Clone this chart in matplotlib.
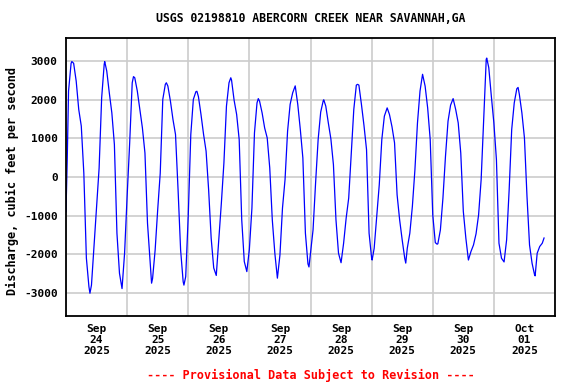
import numpy as np
import pandas as pd
import matplotlib
matplotlib.use('Agg')
from matplotlib import pyplot as plt
import matplotlib.dates as mdates

# hours after 2025-09-24 00:00 and discharge (cfs)
hours = [0, 0.5, 1, 2, 2.3, 3, 4, 5, 6, 7, 8, 9, 9.4, 10, 11, 12, 13, 14, 15, 15.2,
         16, 17, 18, 19, 20, 21, 22, 23, 24, 25, 26, 26.5, 27, 28, 29, 30, 31, 32, 33, 33.6,
         34, 35, 36, 37, 38, 39, 39.4, 40, 41, 42, 43, 44, 45, 46, 46.3, 47, 48, 49, 50, 51,
         51.4, 52, 53, 54, 55, 56, 57, 58, 59, 60, 61, 62, 63, 64, 64.7, 65, 66, 67, 68, 69,
         70, 71, 72, 73, 74, 75, 75.5, 76, 77, 78, 79, 80, 81, 82, 83, 84, 85, 86, 87, 88,
         89, 90, 91, 92, 93, 94, 95, 95.4, 96, 97, 98, 99, 100, 101, 101.2, 102, 103, 104, 105, 106,
         107, 108, 109, 110, 111, 112, 113, 114, 114.5, 115, 116, 117, 118, 119, 120, 120.2, 121, 122, 123, 124,
         125, 126, 126.1, 127, 128, 129, 130, 131, 132, 133, 133.4, 134, 135, 136, 137, 138, 139, 140, 141, 142,
         143, 144, 145, 145.7, 146, 147, 148, 149, 150, 151, 152, 153, 154, 155, 156, 157, 158, 159, 160, 161,
         162, 163, 164, 165, 165.2, 166, 167, 168, 169, 170, 171, 172, 173, 174, 175, 176, 177, 177.5, 178, 179,
         180, 181, 182, 183, 184, 184.2, 185, 186, 187, 187.7]
discharge = [-900, 500, 2225, 2945, 2990, 2945, 2485, 1750, 1320, 100, -2100, -2840, -3010, -2800, -1800, -800, 230, 2050, 2920, 2990,
             2745, 2180, 1660, 840, -1455, -2495, -2890, -1975, -500, 880, 2440, 2600, 2570, 2225, 1750, 1270, 620, -1195, -2150, -2750,
             -2625, -1890, -850, 100, 2010, 2400, 2440, 2355, 1965, 1490, 1100, -330, -1890, -2710, -2800, -2580, -1000, 1100, 2010, 2210,
             2220, 2080, 1620, 1110, 670, -330, -1585, -2355, -2550, -1630, -675, 364, 1835, 2440, 2570, 2510, 1990, 1620, 970, -1110,
             -2190, -2450, -1870, -805, 1143, 1920, 2030, 1965, 1660, 1270, 1013, 234, -1110, -1975, -2620, -2020, -805, -70, 1186, 1880,
             2180, 2360, 1880, 1230, 494, -1455, -2250, -2330, -1975, -1370, -150, 970, 1680, 1975, 2000, 1835, 1400, 987, 320, -1110,
             -1975, -2220, -1715, -1065, -545, 580, 1750, 2380, 2400, 2380, 1880, 1333, 710, -1455, -2105, -2150, -1845, -1020, -200, 970,
             1576, 1767, 1790, 1620, 1300, 883, -460, -1110, -1630, -2105, -2230, -1845, -1455, -760, 190, 1400, 2225, 2660, 2355, 1790,
             970, -980, -1700, -1740, -1730, -1370, -545, 537, 1446, 1860, 2030, 1750, 1400, 620, -890, -1585, -2150, -1930, -1760, -1470,
             -980, -70, 1490, 3050, 3080, 2830, 2095, 1400, 450, -1715, -2105, -2200, -1630, -330, 1230, 1920, 2285, 2320, 2140, 1660,
             1013, -500, -1760, -2235, -2540, -2560, -1975, -1800, -1715, -1580]

start = pd.Timestamp('2025-09-24 00:00')
end = pd.Timestamp('2025-10-02 00:00')
times = start + pd.to_timedelta(hours, unit='h')
y_ticks = [-3000, -2000, -1000, 0, 1000, 2000, 3000]

mono = 'DejaVu Sans Mono'

fig = plt.figure(figsize=(5.76, 3.84), dpi=100)
ax = fig.add_axes([66/576, 68/384, 489/576, 278/384])

ax.plot(times, discharge, color='#0000ff', linewidth=0.9)

ax.set_xlim(start, end)
ax.set_ylim(-3600, 3600)

midnights = pd.date_range(start, end, freq='D')
noons = midnights[:-1] + pd.Timedelta(hours=12)
ax.set_xticks(midnights)
ax.set_xticklabels([])
ax.set_xticks(noons, minor=True)
ax.set_xticklabels([d.strftime('%b\n%d\n%Y') for d in noons], minor=True,
                   fontfamily=mono, fontweight='bold', fontsize=8, linespacing=1.1)
ax.tick_params(axis='x', which='both', length=0, pad=6)

ax.set_yticks(y_ticks)
ax.set_yticklabels([str(v) for v in y_ticks], fontfamily=mono, fontweight='bold', fontsize=8)
ax.tick_params(axis='y', length=0, pad=6)

ax.grid(True, which='major', color='#cccccc', linewidth=1.2)
ax.set_axisbelow(True)
for s in ax.spines.values():
    s.set_linewidth(1.3)
    s.set_color('black')

fig.text(0.5 * (66 + 555) / 576, 1 - 19/384, 'USGS 02198810 ABERCORN CREEK NEAR SAVANNAH,GA',
         ha='center', va='center', fontfamily=mono, fontweight='bold', fontsize=8.3)
fig.text(12/576, 1 - 181/384, 'Discharge, cubic feet per second', rotation=90,
         ha='center', va='center', fontfamily=mono, fontweight='bold', fontsize=8.6)
fig.text(0.5 * (66 + 555) / 576, 1 - 375/384, '---- Provisional Data Subject to Revision ----',
         ha='center', va='center', fontfamily=mono, fontweight='bold', fontsize=8.5, color='red')

fig.savefig('out.png', dpi=100, facecolor='white')
